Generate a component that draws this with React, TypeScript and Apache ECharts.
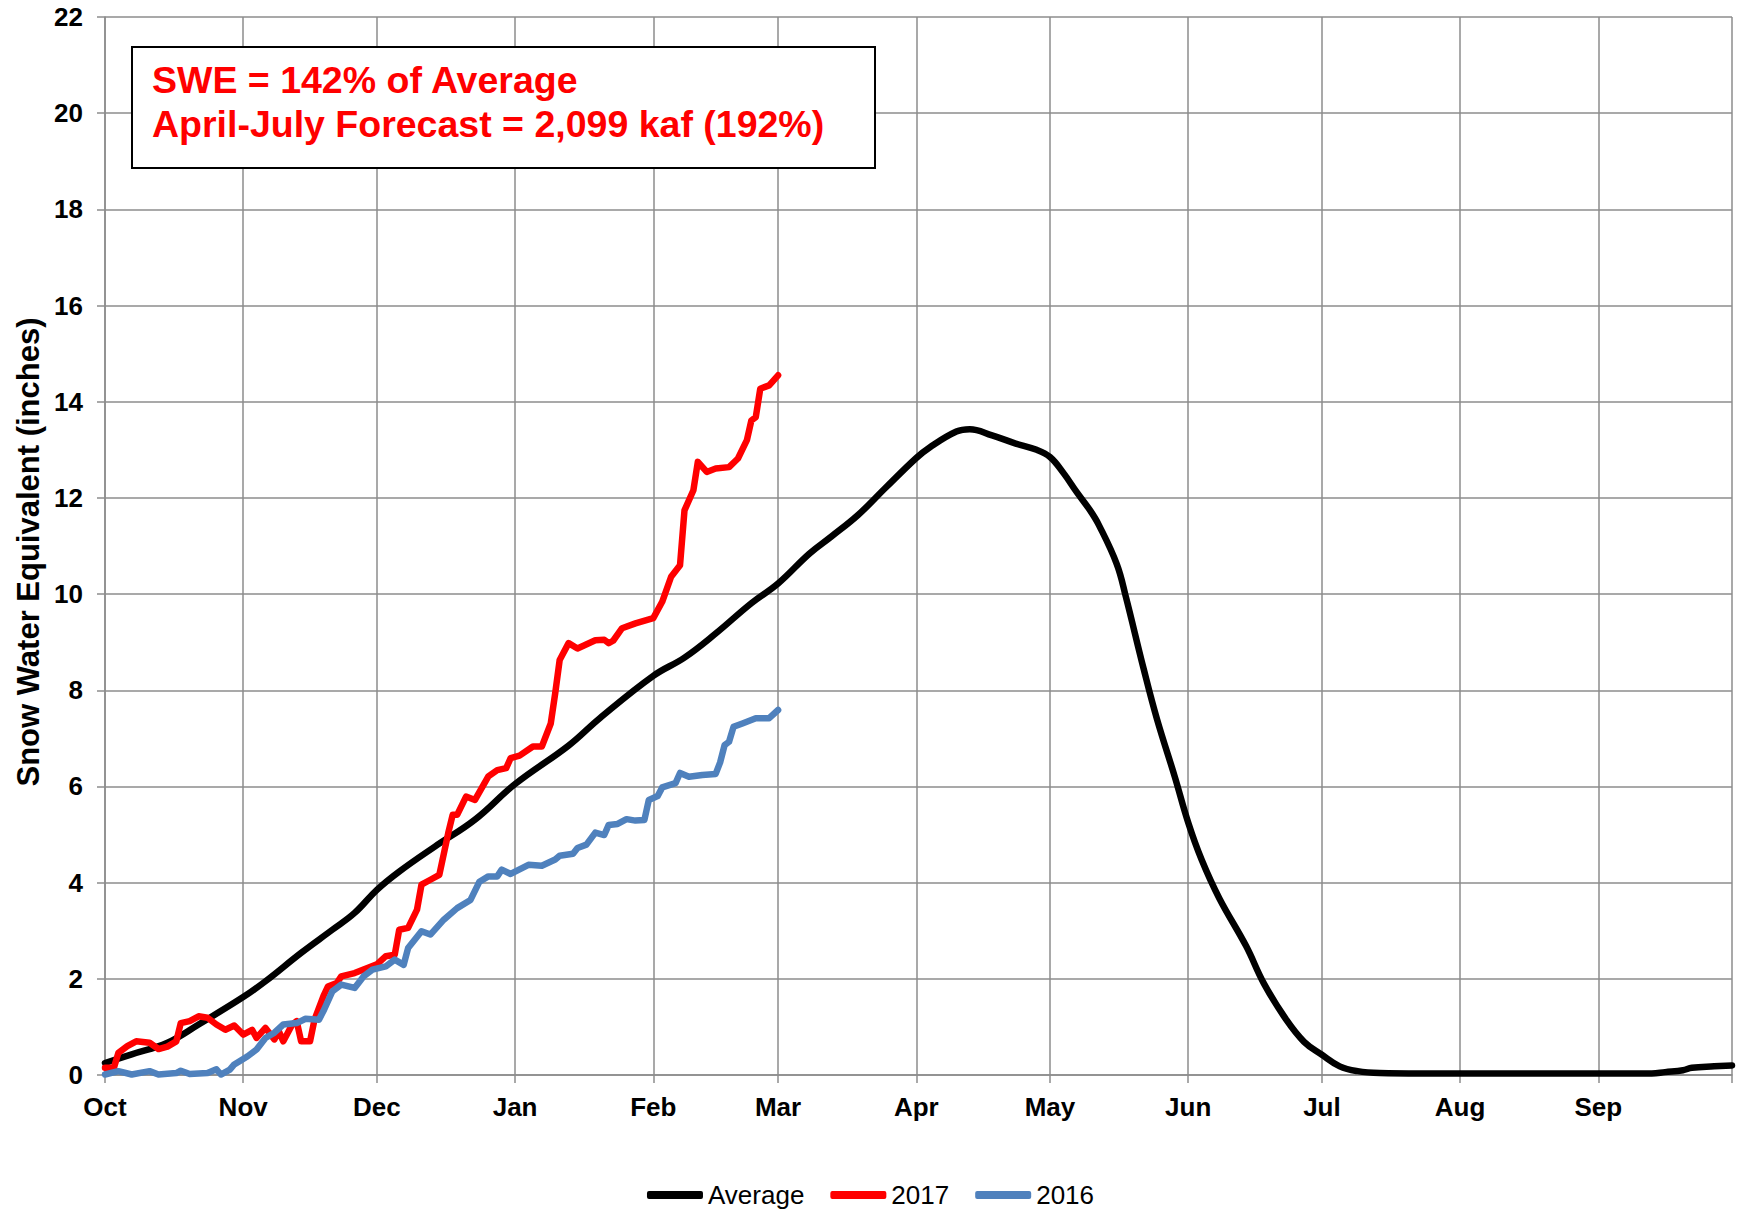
import React, { useEffect, useRef } from "react";
import * as echarts from "echarts";

const monthStarts = [0, 31, 61, 92, 123, 151, 182, 212, 243, 273, 304, 335, 365];
const monthLabels = ["Oct", "Nov", "Dec", "Jan", "Feb", "Mar", "Apr", "May", "Jun", "Jul", "Aug", "Sep", ""];
const yTicks = [0, 2, 4, 6, 8, 10, 12, 14, 16, 18, 20, 22];

// [day of water year, SWE inches]
const averageData = [
  [0, 0.25], [6, 0.43], [14, 0.67], [21, 1.05], [31, 1.62], [36, 1.95], [44, 2.54], [51, 3.02],
  [56, 3.37], [61, 3.85], [66, 4.23], [74, 4.75], [83, 5.31], [92, 6.05], [104, 6.85], [111, 7.42],
  [123, 8.3], [130, 8.68], [137, 9.18], [145, 9.81], [151, 10.22], [158, 10.84], [163, 11.2],
  [169, 11.65], [175, 12.2], [182, 12.83], [185, 13.05], [191, 13.38], [194, 13.43], [199, 13.3],
  [204, 13.14], [209, 13.0], [212, 12.85], [215, 12.52], [218, 12.12], [221, 11.74], [223, 11.43],
  [227, 10.62], [229, 9.95], [233, 8.45], [236, 7.4], [240, 6.2], [243, 5.25], [246, 4.48],
  [250, 3.67], [256, 2.68], [260, 1.9], [265, 1.15], [269, 0.69], [273, 0.42], [277, 0.18],
  [281, 0.08], [286, 0.04], [295, 0.03], [347, 0.03], [350, 0.06], [354, 0.1], [356, 0.15],
  [361, 0.18], [365, 0.2],
];

const data2017 = [
  [0, 0.15], [2, 0.15], [3, 0.46], [5, 0.6], [7, 0.7], [10, 0.67], [12, 0.54], [14, 0.59],
  [16, 0.7], [17, 1.08], [19, 1.12], [21, 1.22], [23, 1.19], [25, 1.05], [27, 0.94], [29, 1.03],
  [31, 0.84], [33, 0.94], [34, 0.77], [36, 0.98], [38, 0.74], [39, 0.91], [40, 0.7], [42, 1.05],
  [43, 1.12], [44, 0.7], [46, 0.7], [47, 1.15], [49, 1.64], [50, 1.84], [52, 1.91], [53, 2.05],
  [56, 2.12], [61, 2.3], [63, 2.47], [65, 2.5], [66, 3.02], [68, 3.06], [70, 3.44], [71, 3.96],
  [73, 4.06], [75, 4.16], [77, 5.03], [78, 5.41], [79, 5.41], [81, 5.79], [83, 5.72], [86, 6.21],
  [88, 6.34], [90, 6.38], [91, 6.59], [93, 6.64], [96, 6.83], [98, 6.83], [100, 7.31], [101, 7.94],
  [102, 8.63], [104, 8.98], [106, 8.87], [110, 9.04], [112, 9.05], [113, 8.98], [114, 9.03],
  [116, 9.29], [119, 9.39], [123, 9.5], [125, 9.84], [127, 10.36], [129, 10.6], [130, 11.74],
  [132, 12.16], [133, 12.75], [135, 12.54], [137, 12.61], [140, 12.64], [142, 12.82], [144, 13.2],
  [145, 13.61], [146, 13.68], [147, 14.27], [149, 14.34], [151, 14.55],
];

const data2016 = [
  [0, 0.01], [3, 0.08], [6, 0.01], [10, 0.08], [12, 0.01], [16, 0.04], [17, 0.09], [19, 0.02],
  [23, 0.04], [25, 0.12], [26, 0.01], [28, 0.11], [29, 0.22], [32, 0.39], [34, 0.53], [36, 0.77],
  [38, 0.88], [40, 1.05], [43, 1.08], [45, 1.17], [48, 1.15], [49, 1.33], [51, 1.74], [53, 1.88],
  [56, 1.81], [58, 2.05], [60, 2.19], [63, 2.26], [65, 2.4], [67, 2.29], [68, 2.64], [71, 2.99],
  [73, 2.92], [76, 3.23], [79, 3.47], [82, 3.64], [84, 4.02], [86, 4.13], [88, 4.13], [89, 4.27],
  [91, 4.18], [95, 4.37], [98, 4.35], [101, 4.48], [102, 4.56], [105, 4.6], [106, 4.72], [108, 4.79],
  [110, 5.04], [112, 4.99], [113, 5.2], [115, 5.22], [117, 5.32], [119, 5.29], [121, 5.3],
  [122, 5.72], [124, 5.8], [125, 5.98], [128, 6.07], [129, 6.28], [131, 6.2], [134, 6.24],
  [137, 6.26], [138, 6.5], [139, 6.86], [140, 6.93], [141, 7.24], [143, 7.31], [146, 7.42],
  [149, 7.42], [151, 7.59],
];

const seriesNames = ["Average", "2017", "2016"];
const seriesColors = ["#000000", "#FF0000", "#4F81BD"];
const annotationLines = ["SWE = 142% of Average", "April-July Forecast = 2,099 kaf (192%)"];
const yAxisTitle = "Snow Water Equivalent (inches)";

const FONT = '"Liberation Sans", Arial, Helvetica, sans-serif';
const GRID_COLOR = "#8c8c8c";

export default function App() {
  const ref = useRef<HTMLDivElement>(null);

  useEffect(() => {
    if (!ref.current) return;
    const chart = echarts.init(ref.current, null, { renderer: "svg" });
    const days: string[] = [];
    for (let i = 0; i <= 365; i++) days.push("d" + i);
    const isMonthStart = (idx: number) => monthStarts.indexOf(idx) >= 0;

    const allData = [averageData, data2017, data2016];

    chart.setOption({
      animation: false,
      backgroundColor: "#ffffff",
      grid: { left: 105, right: 9, top: 17, bottom: 134, containLabel: false },
      xAxis: {
        type: "category",
        data: days,
        boundaryGap: false,
        axisLine: { show: true, lineStyle: { color: GRID_COLOR, width: 1.5 } },
        axisTick: {
          show: true,
          length: 8,
          interval: (idx: number) => isMonthStart(idx),
          lineStyle: { color: GRID_COLOR, width: 1.5 },
        },
        splitLine: {
          show: true,
          interval: (idx: number) => isMonthStart(idx),
          lineStyle: { color: GRID_COLOR, width: 1.5 },
        },
        axisLabel: {
          interval: (idx: number) => isMonthStart(idx),
          formatter: (_v: string, idx: number) => {
            const k = monthStarts.indexOf(idx);
            return k >= 0 ? monthLabels[k] : "";
          },
          color: "#000",
          fontFamily: FONT,
          fontWeight: "bold",
          fontSize: 26,
          margin: 19,
        },
      },
      yAxis: {
        type: "value",
        min: yTicks[0],
        max: yTicks[yTicks.length - 1],
        interval: 2,
        axisLine: { show: true, lineStyle: { color: GRID_COLOR, width: 1.5 } },
        axisTick: { show: true, length: 8, lineStyle: { color: GRID_COLOR, width: 1.5 } },
        splitLine: { show: true, lineStyle: { color: GRID_COLOR, width: 1.5 } },
        axisLabel: {
          color: "#000",
          fontFamily: FONT,
          fontWeight: "bold",
          fontSize: 26,
          margin: 22,
        },
      },
      legend: {
        data: seriesNames.map((n) => ({ name: n, icon: "roundRect" })),
        top: 1182,
        left: "center",
        padding: [0, 0, 0, 0],
        itemWidth: 56,
        itemHeight: 8,
        itemGap: 26,
        textStyle: { color: "#000", fontFamily: FONT, fontSize: 26 },
      },
      graphic: [
        {
          type: "text",
          x: 28,
          y: 552,
          rotation: Math.PI / 2,
          style: {
            text: yAxisTitle,
            fill: "#000",
            font: `bold 31px ${FONT}`,
            align: "center",
            verticalAlign: "middle",
          },
        },
        {
          type: "rect",
          shape: { x: 132, y: 47, width: 743, height: 121 },
          style: { fill: "#ffffff", stroke: "#000000", lineWidth: 2 },
          z: 100,
        },
        {
          type: "text",
          x: 152,
          y: 80,
          style: {
            text: annotationLines[0],
            fill: "#FF0000",
            font: `bold 37.5px ${FONT}`,
            verticalAlign: "middle",
            align: "left",
          },
          z: 101,
        },
        {
          type: "text",
          x: 152,
          y: 124,
          style: {
            text: annotationLines[1],
            fill: "#FF0000",
            font: `bold 37.5px ${FONT}`,
            verticalAlign: "middle",
            align: "left",
          },
          z: 101,
        },
      ],
      series: seriesNames.map((name, i) => ({
        name,
        type: "line",
        data: allData[i],
        showSymbol: false,
        symbol: "none",
        smooth: i === 0 ? 0.4 : false,
        color: seriesColors[i],
        lineStyle: { color: seriesColors[i], width: 6.5, cap: "round", join: "round" },
        emphasis: { disabled: true },
        z: 2 + i,
      })),
    });

    return () => chart.dispose();
  }, []);

  return (
    <div
      ref={ref}
      style={{ position: "fixed", left: 0, top: 0, width: 1741, height: 1209 }}
    />
  );
}
